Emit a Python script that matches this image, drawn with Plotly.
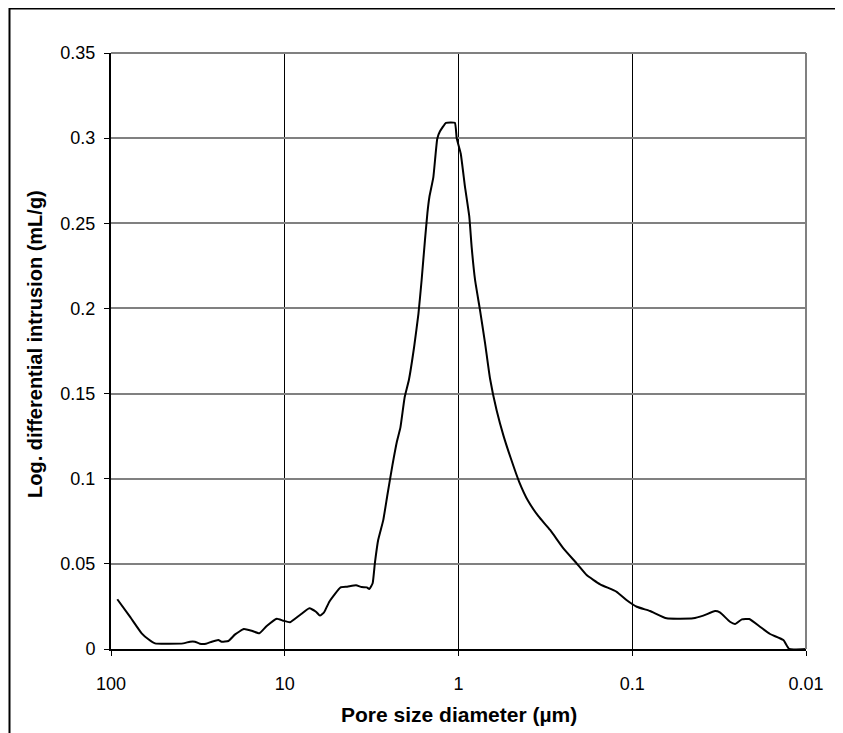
import plotly.graph_objects as go

# Pore diameter (µm) and log differential intrusion (mL/g)
diameter = [92.0, 77.8, 66.6, 60.9, 55.8, 38.4, 35.1, 32.9, 30.8, 28.4,
            26.3, 24.1, 23.1, 21.1, 19.3, 17.2, 15.5, 14.0, 12.7, 11.1,
            10.2, 9.33, 8.17, 7.22, 6.61, 6.27, 5.94, 5.54, 4.77, 4.37,
            3.89, 3.61, 3.37, 3.26, 3.12, 3.03, 2.90, 2.71, 2.57, 2.40,
            2.26, 2.16, 2.04, 1.93, 1.80, 1.70, 1.63, 1.56, 1.51, 1.47,
            1.396, 1.325, 1.278, 1.18, 1.05, 1.024, 0.971, 0.918, 0.867, 0.840,
            0.803, 0.752, 0.703, 0.659, 0.603, 0.55, 0.50, 0.447, 0.398, 0.347,
            0.297, 0.249, 0.209, 0.183, 0.153, 0.123, 0.108, 0.0942, 0.079, 0.0634,
            0.0446, 0.039, 0.0334, 0.0313, 0.0274, 0.0256, 0.0234, 0.0212, 0.0184, 0.0161,
            0.0135, 0.0125, 0.01]
intrusion = [0.0292, 0.0190, 0.0092, 0.0057, 0.0033, 0.0033, 0.0043, 0.0043, 0.0031, 0.0031,
             0.0043, 0.0053, 0.0043, 0.0047, 0.0086, 0.0117, 0.0107, 0.0092, 0.0135, 0.0178,
             0.0166, 0.0157, 0.0200, 0.0239, 0.0219, 0.0196, 0.0215, 0.0278, 0.0362, 0.0366,
             0.0374, 0.0364, 0.0362, 0.0352, 0.0386, 0.0503, 0.0640, 0.0757, 0.090, 0.108,
             0.122, 0.130, 0.148, 0.158, 0.1775, 0.197, 0.2167, 0.240, 0.256, 0.2656,
             0.277, 0.2997, 0.304, 0.309, 0.309, 0.2999, 0.291, 0.2715, 0.254, 0.236,
             0.2167, 0.199, 0.1795, 0.159, 0.140, 0.125, 0.112, 0.098, 0.087, 0.078,
             0.0699, 0.0591, 0.0503, 0.0434, 0.0380, 0.0336, 0.0288, 0.0248, 0.0223, 0.0180,
             0.0180, 0.0196, 0.0223, 0.0215, 0.0160, 0.0147, 0.0174, 0.0176, 0.0131, 0.0088,
             0.0053, 0, 0]

x_ticks = [100, 10, 1, 0.1, 0.01]
x_tick_text = ["100", "10", "1", "0.1", "0.01"]
y_ticks = [0, 0.05, 0.1, 0.15, 0.2, 0.25, 0.3, 0.35]
y_tick_text = ["0", "0.05", "0.1", "0.15", "0.2", "0.25", "0.3", "0.35"]

x_title = "Pore size diameter (µm)"
y_title = "Log. differential intrusion (mL/g)"

FONT = "Liberation Sans, Arial, sans-serif"
W, H = 843, 733
OFF = 8  # page body margin offset
# plot area on the page: x 111..806, y 53..649
L, T = 111 - OFF, 53 - OFF
R = W - (806 - OFF)
B = H - (649 - OFF)
pw, ph = W - L - R, H - T - B

def fx(p):
    """figure pixel x -> paper"""
    return (p - L) / pw

def fy(p):
    """figure pixel y -> paper"""
    return (H - B - p) / ph

fig = go.Figure()
fig.add_trace(go.Scatter(
    x=diameter, y=intrusion, mode="lines",
    line=dict(color="black", width=2, shape="spline", smoothing=0.4),
    hoverinfo="skip", showlegend=False,
))

fig.update_layout(
    width=W, height=H,
    margin=dict(l=L, r=R, t=T, b=B),
    paper_bgcolor="white", plot_bgcolor="white",
    font=dict(family=FONT, color="black", size=18),
    showlegend=False,
    xaxis=dict(
        type="log", range=[2, -2],
        tickvals=x_ticks, ticktext=x_tick_text,
        showgrid=True, gridcolor="black", gridwidth=1,
        showline=True, linecolor="black", linewidth=2,
        ticks="outside", ticklen=5, tickcolor="black", tickwidth=1,
        ticklabelstandoff=12,
        tickfont=dict(size=18, family=FONT),
        zeroline=False,
    ),
    yaxis=dict(
        range=[0, 0.35],
        tickvals=y_ticks, ticktext=y_tick_text,
        showgrid=True, gridcolor="#808080", gridwidth=2,
        showline=True, linecolor="black", linewidth=2,
        ticks="outside", ticklen=5, tickcolor="black", tickwidth=1,
        ticklabelstandoff=5,
        tickfont=dict(size=18, family=FONT),
        zeroline=False,
    ),
    shapes=[
        dict(type="line", xref="paper", yref="paper", x0=0, x1=1, y0=1, y1=1,
             line=dict(color="#808080", width=2), layer="above"),
        dict(type="line", xref="paper", yref="paper", x0=1, x1=1, y0=0, y1=1,
             line=dict(color="#808080", width=2), layer="above"),
        # outer chart border (top and left are visible)
        dict(type="line", xref="paper", yref="paper",
             x0=fx(1.5), x1=fx(900), y0=fy(0.75), y1=fy(0.75),
             line=dict(color="black", width=1.5)),
        dict(type="line", xref="paper", yref="paper",
             x0=fx(1.5), x1=fx(1.5), y0=fy(0), y1=fy(800),
             line=dict(color="black", width=2)),
    ],
    annotations=[
        dict(text="<b>" + x_title + "</b>", xref="paper", yref="paper",
             x=0.5, y=fy(714 - OFF), xanchor="center", yanchor="middle",
             showarrow=False, font=dict(size=21, family=FONT)),
        dict(text="<b>" + y_title + "</b>", xref="paper", yref="paper",
             x=fx(35 - OFF), y=fy(344 - OFF), xanchor="center", yanchor="middle",
             textangle=-90, showarrow=False, font=dict(size=20, family=FONT)),
    ],
)

fig.write_html("out.html")
